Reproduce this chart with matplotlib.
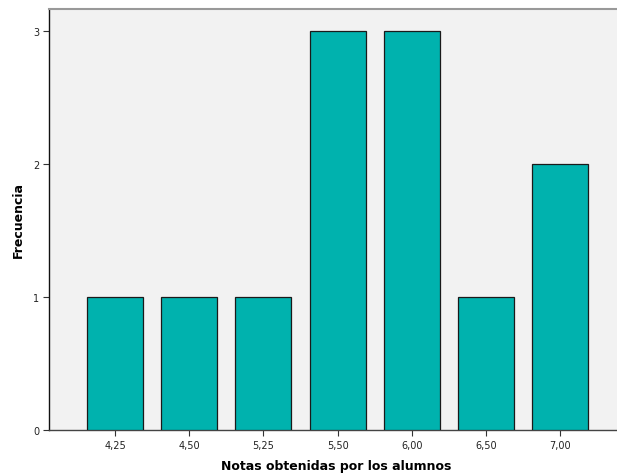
import matplotlib
matplotlib.use("Agg")
import matplotlib.pyplot as plt

categories = ["4,25", "4,50", "5,25", "5,50", "6,00", "6,50", "7,00"]
frequencies = [1, 1, 1, 3, 3, 1, 2]

fig = plt.figure(figsize=(6.17, 4.77), dpi=100)
fig.patch.set_facecolor("white")
ax_w = 1 - 49/617 + 0.01
ax = fig.add_axes([49/617, 46/477, ax_w, (431 - 10)/477])
ax.set_facecolor("#F2F2F2")

x = list(range(len(categories)))
ax.bar(x, frequencies, width=0.755, color="#00B2AE", edgecolor="#1a1a1a", linewidth=0.9, zorder=3)

ax.set_xlim(-0.89, 6.85)
ax.set_ylim(0, 3.0 + 22/133)
ax.set_xticks(x)
ax.set_xticklabels(categories, fontsize=7, color="#222222")
ax.set_yticks([0, 1, 2, 3])
ax.set_yticklabels(["0", "1", "2", "3"], fontsize=7, color="#222222")
ax.tick_params(axis="both", length=4, width=0.8, color="#333333", pad=3)

ax.spines["right"].set_visible(False)
ax.spines["top"].set_color("#999999")
ax.spines["top"].set_linewidth(1.5)
ax.spines["left"].set_color("#111111")
ax.spines["left"].set_linewidth(1.0)
ax.spines["bottom"].set_color("#444444")
ax.spines["bottom"].set_linewidth(1.0)

ax.set_xlabel("Notas obtenidas por los alumnos", fontsize=9, fontweight="bold", labelpad=7)
ax.set_ylabel("Frecuencia", fontsize=9, fontweight="bold")
ax.yaxis.set_label_coords(-24 / (ax_w * 617), 0.5)

fig.savefig("out.png", dpi=100)
